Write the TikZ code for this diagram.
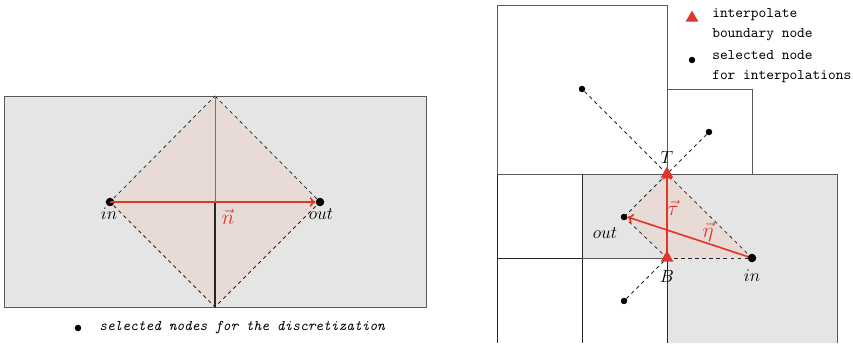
\documentclass[tikz,border=0pt]{standalone}
\usetikzlibrary{shapes.geometric,arrows.meta}
\definecolor{cellgray}{HTML}{E5E5E5}
\definecolor{cellpink}{HTML}{E8DBD5}
\definecolor{redv}{HTML}{E0352B}
\definecolor{edge}{HTML}{5A5A5A}
\begin{document}
\begin{tikzpicture}[x=0.68pt,y=-0.68pt,
  cell/.style={draw=edge,line width=0.6pt},
  dashln/.style={dashed,dash pattern=on 2.4pt off 2.4pt,line width=0.5pt,draw=black!85},
  dot/.style={circle,fill=black,inner sep=0pt,minimum size=4.4pt},
  bigdot/.style={circle,fill=black,inner sep=0pt,minimum size=5.8pt},
  tri/.style={regular polygon,regular polygon sides=3,fill=redv,inner sep=0pt,minimum size=10pt},
  vec/.style={draw=redv,line width=1.1pt,-{To[length=3.8pt,width=6.5pt]}},
  lbl/.style={font=\large},
  vlbl/.style={font=\Large,text=redv},
  leg/.style={font=\ttfamily,anchor=west,align=left,inner sep=0pt}]
\useasboundingbox (0,0) rectangle (853,343);
% ---------------- left panel ----------------
\coordinate (Ltl) at (4,96);
\coordinate (Lbr) at (426,307);
\coordinate (Ltop) at (215,96);
\coordinate (Lbot) at (215,307);
\coordinate (Lmid) at (215,202);
\node[bigdot] (Lin) at (110,202) {};
\node[bigdot] (Lout) at (320,202) {};
\fill[cellgray] (Ltl) rectangle (Lbr);
\fill[cellpink] (Ltop) -- (Lout.center) -- (Lbot) -- (Lin.center) -- cycle;
\draw[cell] (Ltl) rectangle (Lbr);
\draw[dashln] (Ltop) -- (Lout.center) -- (Lbot) -- (Lin.center) -- cycle;
\draw[line width=0.5pt,draw=black!55] (Ltop) -- (Lmid);
\draw[line width=0.7pt,draw=black!85] (Lmid) -- (Lbot);
\node[bigdot] at (Lin) {};
\node[bigdot] at (Lout) {};
\draw[vec] (Lin.center) -- (Lout.west);
\node[vlbl] (Ln) at (228,217) {$\vec{n}$};
\node[lbl] (Linl) at (109,214) {$in$};
\node[lbl] (Loutl) at (321,214) {$out$};
\node[dot] (Ldot) at (78,328) {};
\node[leg,font=\ttfamily\itshape] (Lleg) at (99,328) {selected nodes for the discretization};
% ---------------- right panel ----------------
\coordinate (T) at (667,174);
\coordinate (B) at (667,258);
\node[bigdot] (Rin) at (752,258) {};
\node[dot] (Rout) at (624,217) {};
\node[dot] (D1) at (582,89) {};
\node[dot] (D2) at (709,132) {};
\node[dot] (D3) at (624,301) {};
% gray region
\fill[cellgray] (582,174) -- (837,174) -- (837,343) -- (667,343) -- (667,258) -- (582,258) -- cycle;
\fill[cellpink] (T) -- (Rout.center) -- (B) -- (Rin.center) -- cycle;
% cells
\draw[cell] (497,5) rectangle (667,174);
\draw[cell] (667,89) rectangle (752,174);
\draw[cell] (497,174) -- (837,174);
\draw[cell] (837,174) -- (837,343);
\draw[cell,draw=black!85] (497,174) -- (497,343);
\draw[cell,draw=black!85] (582,174) -- (582,343);
\draw[cell,draw=black!85] (497,258) -- (582,258);
\draw[cell] (582,258) -- (667,258);
\draw[cell,draw=black!85] (667,258) -- (667,343);
% dashed stencil lines
\draw[dashln] (D1) -- (T) -- (Rin.center);
\draw[dashln] (D2) -- (T) -- (Rout.center);
\draw[dashln] (Rout.center) -- (B);
\draw[dashln] (D3) -- (B);
\draw[dashln] (B) -- (Rin.center);
% vectors
\draw[vec] (B) -- (T);
\draw[vec] (Rin.center) -- (Rout.east);
\node[tri] (Tt) at (T) {};
\node[tri] (Bt) at (B) {};
\node[bigdot] at (Rin) {};
\node[dot] at (Rout) {};
\node[vlbl] (tau) at (673,208) {$\vec{\tau}$};
\node[vlbl] (eta) at (708,232) {$\vec{\eta}$};
\node[lbl] (Tl) at (667,157) {$T$};
\node[lbl] (Bl) at (667,276) {$B$};
\node[lbl] (Routl) at (605,233) {$out$};
\node[lbl] (Rinl) at (752,276) {$in$};
% legend
\node[tri] (legtri) at (692,18) {};
\node[leg] (legt1) at (712,25) {interpolate\\[1.5pt]boundary node};
\node[dot] (legdot) at (692,60) {};
\node[leg] (legt2) at (712,67) {selected node\\[1.5pt]for interpolations};
\end{tikzpicture}
\end{document}
